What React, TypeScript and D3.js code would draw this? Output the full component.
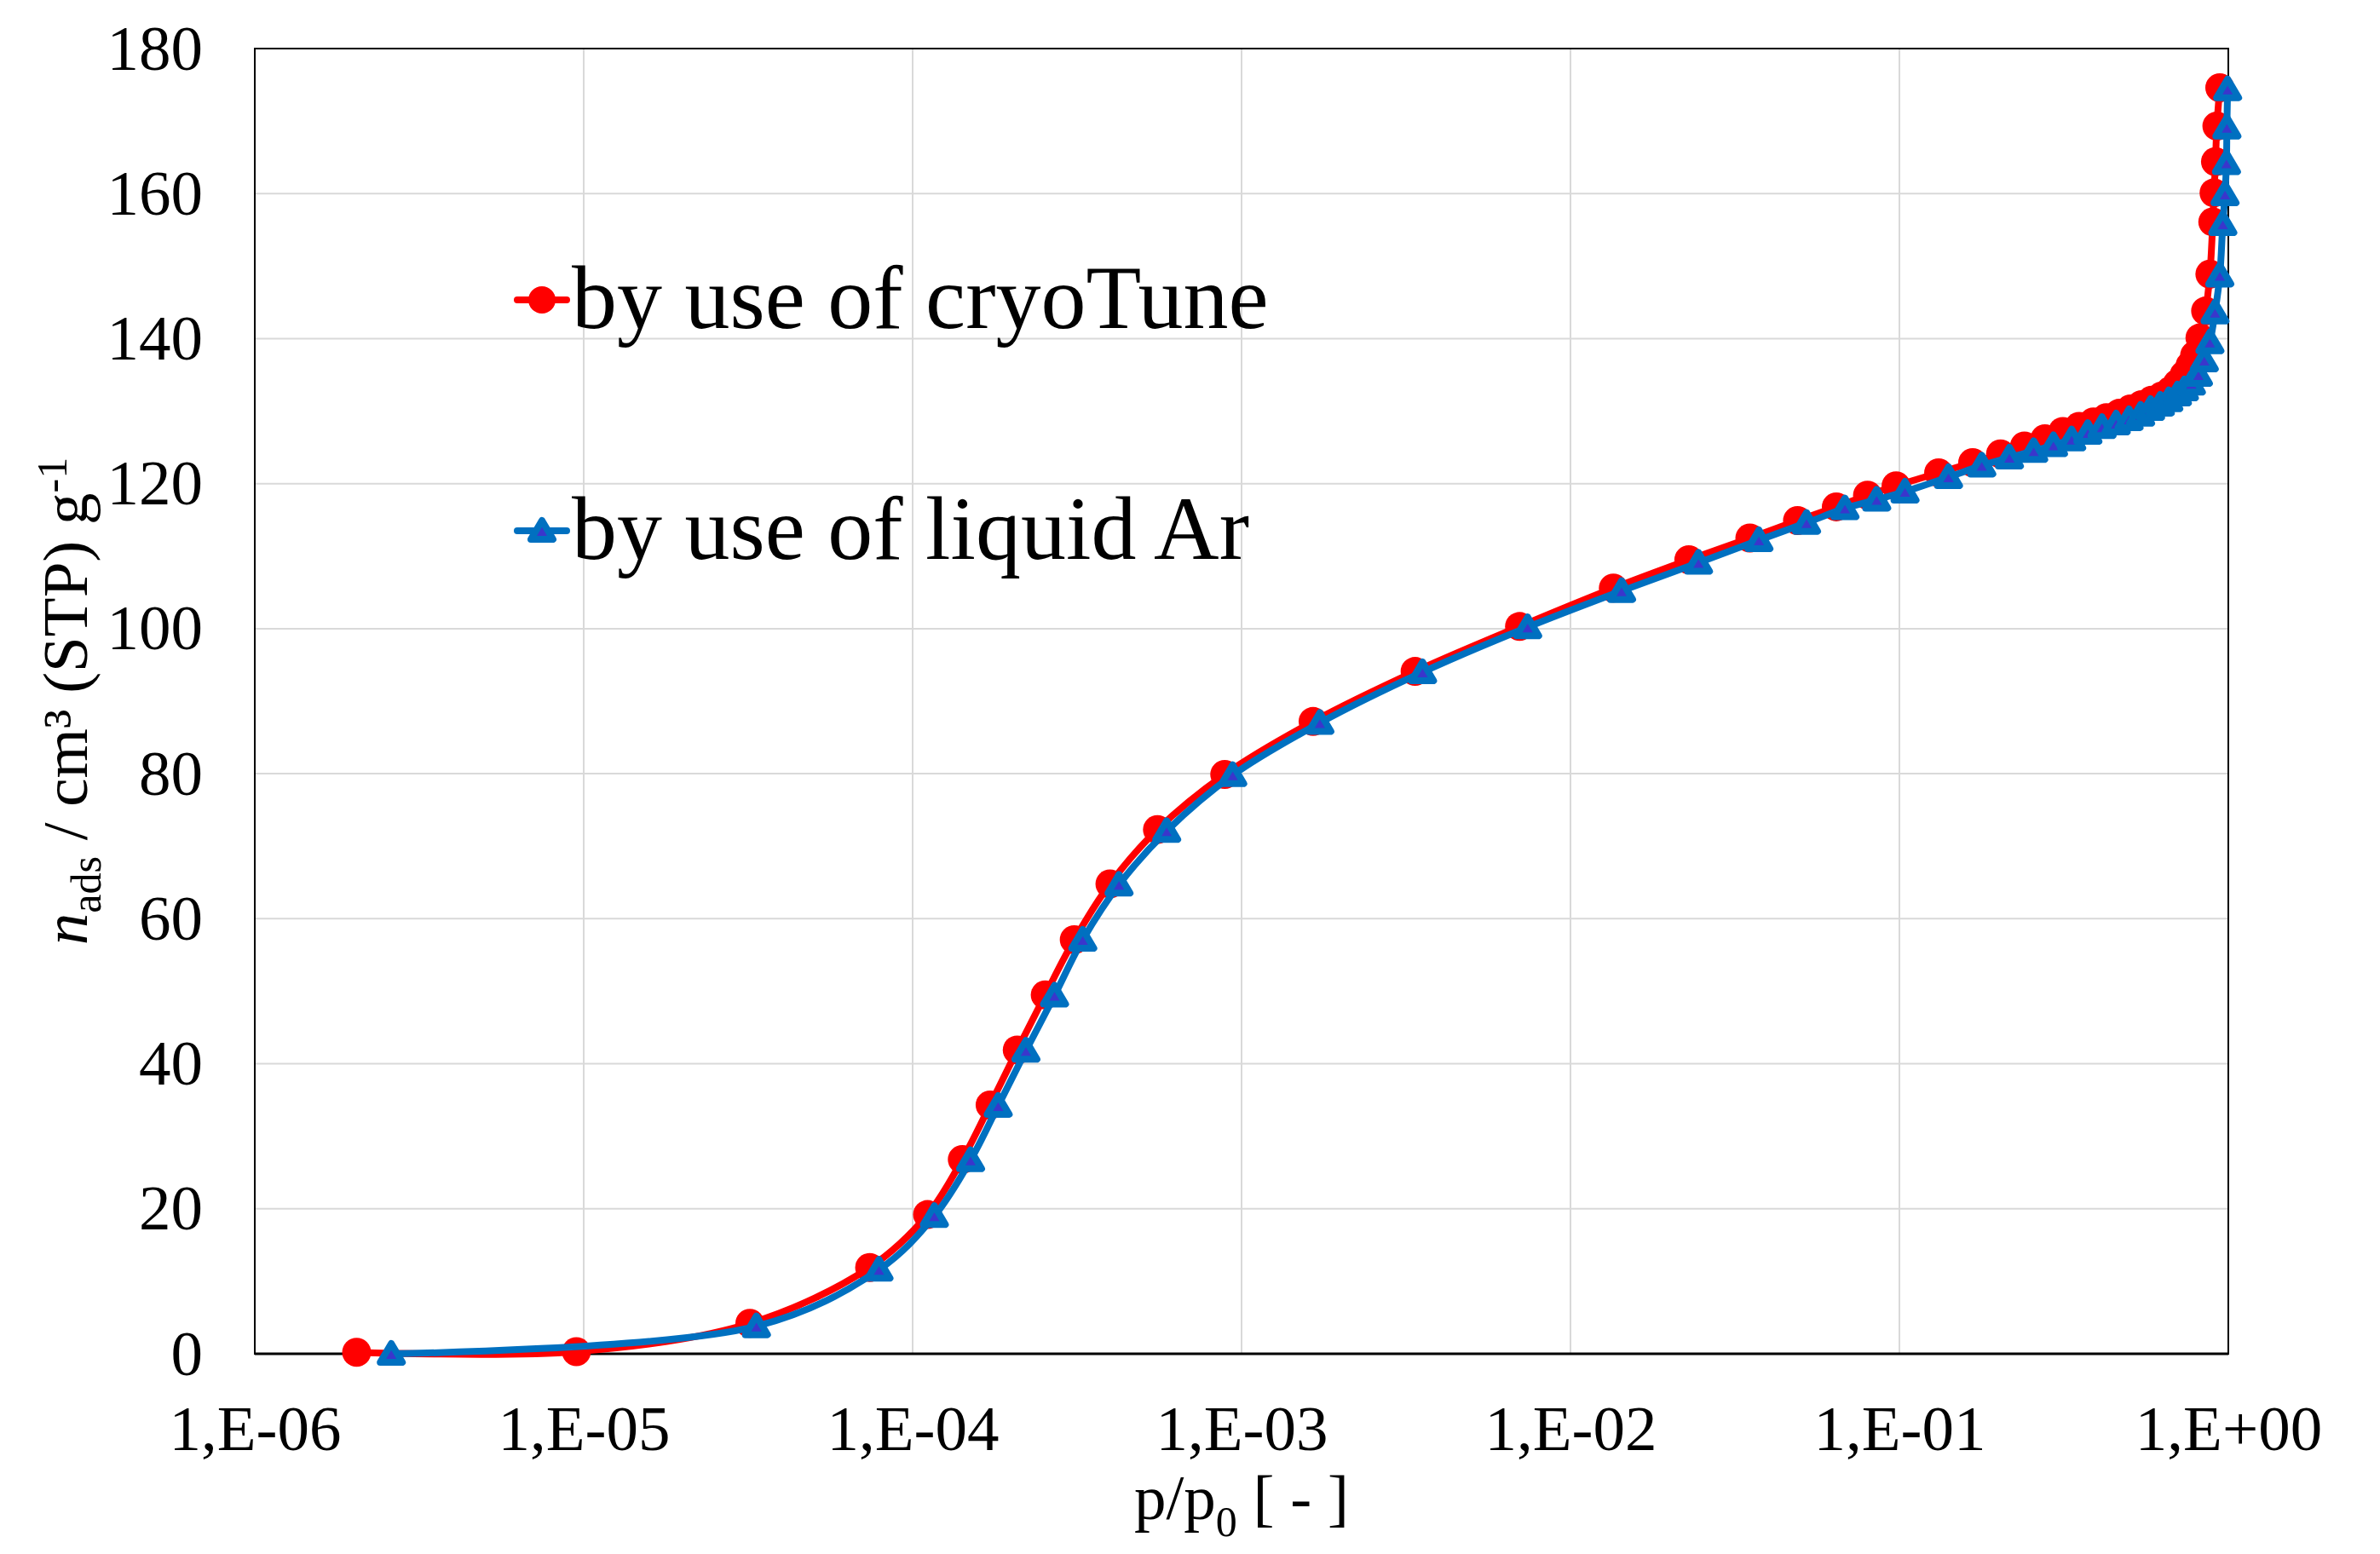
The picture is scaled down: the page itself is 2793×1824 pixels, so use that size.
import React, { Component } from "react";
import * as d3 from "d3";

const cryoTuneP = [
  2.04e-6, 9.5e-6, 3.2e-5, 7.4e-5, 1.11e-4, 1.416e-4, 1.72e-4, 2.08e-4, 2.53e-4,
  3.1e-4, 3.98e-4, 5.55e-4, 8.89e-4, 1.65e-3, 3.37e-3, 7.0e-3, 1.35e-2, 2.29e-2,
  3.51e-2, 4.9e-2, 6.43e-2, 8.0e-2, 9.77e-2, 0.1316, 0.167, 0.203, 0.24, 0.277,
  0.314, 0.352, 0.389, 0.426, 0.466, 0.504, 0.545, 0.585, 0.628, 0.666, 0.7,
  0.734, 0.765, 0.79, 0.82, 0.853, 0.879, 0.897, 0.905, 0.914, 0.923, 0.942,
];
const cryoTuneN = [
  0.2, 0.3, 4.2, 11.9, 19.2, 26.8, 34.3, 41.9, 49.5, 57.1, 64.8, 72.3, 79.9,
  87.2, 94.1, 100.3, 105.6, 109.5, 112.5, 114.9, 116.8, 118.4, 119.7, 121.5,
  122.9, 124.1, 125.2, 126.2, 127.2, 127.9, 128.5, 129.1, 129.7, 130.3, 130.9,
  131.5, 132.1, 132.8, 133.8, 135.0, 136.3, 137.7, 140.1, 143.8, 148.9, 156.1,
  160.1, 164.4, 169.3, 174.6,
];

const liquidArP = [
  2.6e-6, 3.35e-5, 7.9e-5, 1.164e-4, 1.5e-4, 1.82e-4, 2.21e-4, 2.7e-4, 3.29e-4,
  4.24e-4, 5.92e-4, 9.4e-4, 1.73e-3, 3.55e-3, 7.41e-3, 1.43e-2, 2.45e-2,
  3.74e-2, 5.22e-2, 6.83e-2, 8.53e-2, 0.104, 0.141, 0.178, 0.216, 0.256, 0.294,
  0.334, 0.374, 0.413, 0.456, 0.499, 0.541, 0.58, 0.621, 0.659, 0.7, 0.735,
  0.772, 0.811, 0.845, 0.879, 0.911, 0.942, 0.962, 0.977, 0.987, 0.99, 0.995,
];
const liquidArN = [
  0, 3.8, 11.6, 19.0, 26.7, 34.2, 41.8, 49.4, 57.1, 64.7, 72.1, 79.8, 87.0,
  94.0, 100.2, 105.2, 109.1, 112.2, 114.6, 116.6, 117.8, 118.9, 120.9, 122.5,
  123.6, 124.5, 125.3, 126.1, 127.0, 127.8, 128.3, 128.9, 129.5, 130.3, 130.9,
  131.5, 132.3, 133.0, 133.8, 135.0, 137.0, 139.5, 143.6, 148.7, 155.8, 159.9,
  164.2, 169.1, 174.4,
];

const xTicks = [1e-6, 1e-5, 1e-4, 1e-3, 1e-2, 1e-1, 1];
const xTickLabels = ["1,E-06", "1,E-05", "1,E-04", "1,E-03", "1,E-02", "1,E-01", "1,E+00"];
const yTicks = [0, 20, 40, 60, 80, 100, 120, 140, 160, 180];

const seriesNames = ["by use of cryoTune", "by use of liquid Ar"];

const RED = "#ff0000";
const BLUE = "#0070c0";
const TRI_FILL = "#3a36cc";
const FONT = "'Liberation Serif', 'Times New Roman', serif";

class IsothermChart extends Component {
  constructor(props) {
    super(props);
    this.svgRef = React.createRef();
    this.drawChart = this.drawChart.bind(this);
  }

  componentDidMount() {
    this.drawChart();
  }

  drawChart() {
    const width = 2793;
    const height = 1824;
    const margin = { top: 57, right: 178, bottom: 235, left: 299 };

    const svg = d3.select(this.svgRef.current);
    svg.selectAll("*").remove();

    const x = d3
      .scaleLog()
      .domain([1e-6, 1])
      .range([margin.left, width - margin.right]);
    const y = d3
      .scaleLinear()
      .domain([0, 180])
      .range([height - margin.bottom, margin.top]);

    // grid
    svg
      .append("g")
      .selectAll("line")
      .data(yTicks)
      .enter()
      .append("line")
      .attr("x1", x(1e-6))
      .attr("x2", x(1))
      .attr("y1", (d) => y(d))
      .attr("y2", (d) => y(d))
      .attr("stroke", "#d9d9d9")
      .attr("stroke-width", 2);

    svg
      .append("g")
      .selectAll("line")
      .data(xTicks)
      .enter()
      .append("line")
      .attr("x1", (d) => x(d))
      .attr("x2", (d) => x(d))
      .attr("y1", y(0))
      .attr("y2", y(180))
      .attr("stroke", "#d9d9d9")
      .attr("stroke-width", 2);

    // frame
    svg
      .append("rect")
      .attr("x", x(1e-6))
      .attr("y", y(180))
      .attr("width", x(1) - x(1e-6))
      .attr("height", y(0) - y(180))
      .attr("fill", "none")
      .attr("stroke", "#000")
      .attr("stroke-width", 2);
    svg
      .append("line")
      .attr("x1", x(1e-6))
      .attr("x2", x(1))
      .attr("y1", y(0))
      .attr("y2", y(0))
      .attr("stroke", "#000")
      .attr("stroke-width", 3);

    // axes
    const yAxis = svg
      .append("g")
      .attr("transform", `translate(${x(1e-6)},0)`)
      .call(d3.axisLeft(y).tickValues(yTicks).tickSize(0).tickPadding(61));
    const xAxis = svg
      .append("g")
      .attr("transform", `translate(0,${y(0)})`)
      .call(
        d3
          .axisBottom(x)
          .tickValues(xTicks)
          .tickFormat((d, i) => xTickLabels[i])
          .tickSize(0)
          .tickPadding(60)
      );
    [yAxis, xAxis].forEach((g) => {
      g.select(".domain").remove();
      g.attr("font-family", FONT).attr("font-size", 75);
      g.selectAll("text").attr("fill", "#000");
    });

    // axis titles
    const xTitle = svg
      .append("text")
      .attr("x", (x(1e-6) + x(1)) / 2)
      .attr("y", 1783)
      .attr("text-anchor", "middle")
      .attr("font-family", FONT)
      .attr("font-size", 75);
    xTitle.append("tspan").text("p/p");
    xTitle.append("tspan").attr("font-size", 50).attr("dy", 20).text("0");
    xTitle.append("tspan").attr("dy", -20).text(" [ - ]");

    const yTitle = svg
      .append("text")
      .attr("transform", `translate(102,${(y(0) + y(180)) / 2}) rotate(-90)`)
      .attr("text-anchor", "middle")
      .attr("font-family", FONT)
      .attr("font-size", 75);
    yTitle.append("tspan").attr("font-style", "italic").text("n");
    yTitle.append("tspan").attr("font-size", 50).attr("dy", 16).text("ads");
    yTitle.append("tspan").attr("dy", -16).text(" / cm³ (STP) g");
    yTitle.append("tspan").attr("font-size", 50).attr("dy", -24).text("-1");

    // series
    const line = d3
      .line()
      .x((d) => x(d[0]))
      .y((d) => y(d[1]))
      .curve(d3.curveCatmullRom.alpha(0.5));

    const redData = cryoTuneP.map((p, i) => [p, cryoTuneN[i]]);
    const blueData = liquidArP.map((p, i) => [p, liquidArN[i]]);

    const triangle = "M0,-12L13,10L-13,10Z";

    svg
      .append("path")
      .datum(redData)
      .attr("d", line)
      .attr("fill", "none")
      .attr("stroke", RED)
      .attr("stroke-width", 8);

    svg
      .append("g")
      .selectAll("circle")
      .data(redData)
      .enter()
      .append("circle")
      .attr("cx", (d) => x(d[0]))
      .attr("cy", (d) => y(d[1]))
      .attr("r", 17)
      .attr("fill", RED);

    svg
      .append("path")
      .datum(blueData)
      .attr("d", line)
      .attr("fill", "none")
      .attr("stroke", BLUE)
      .attr("stroke-width", 8);

    svg
      .append("g")
      .selectAll("path")
      .data(blueData)
      .enter()
      .append("path")
      .attr("d", triangle)
      .attr("transform", (d) => `translate(${x(d[0])},${y(d[1])})`)
      .attr("fill", TRI_FILL)
      .attr("stroke", BLUE)
      .attr("stroke-width", 8)
      .attr("stroke-linejoin", "round");

    // legend
    const legend = svg.append("g").attr("transform", "translate(607,352)");
    seriesNames.forEach((name, i) => {
      const row = legend.append("g").attr("transform", `translate(0,${i * 271})`);
      row
        .append("line")
        .attr("x1", 0)
        .attr("x2", 58)
        .attr("stroke", i === 0 ? RED : BLUE)
        .attr("stroke-width", 8)
        .attr("stroke-linecap", "round");
      if (i === 0) {
        row.append("circle").attr("cx", 29).attr("r", 16).attr("fill", RED);
      } else {
        row
          .append("path")
          .attr("d", triangle)
          .attr("transform", "translate(29,0)")
          .attr("fill", TRI_FILL)
          .attr("stroke", BLUE)
          .attr("stroke-width", 8)
          .attr("stroke-linejoin", "round");
      }
      row
        .append("text")
        .attr("x", 64)
        .attr("y", 33)
        .attr("font-family", FONT)
        .attr("font-size", 106)
        .attr("fill", "#000")
        .text(name);
    });
  }

  render() {
    return (
      <svg
        ref={this.svgRef}
        width={2793}
        height={1824}
        style={{ position: "absolute", left: 0, top: 0, background: "#fff" }}
      />
    );
  }
}

export default function App() {
  return <IsothermChart />;
}
